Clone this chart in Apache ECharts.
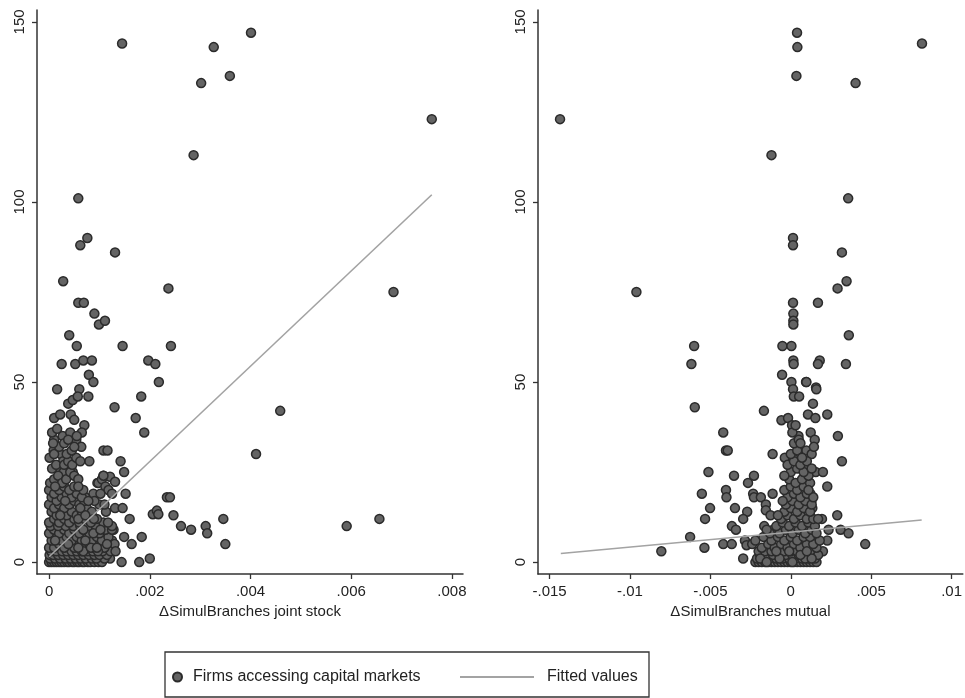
<!DOCTYPE html>
<html><head><meta charset="utf-8">
<script src="https://cdn.jsdelivr.net/npm/echarts@6/dist/echarts.min.js"></script>
<style>html,body{margin:0;padding:0;background:#fff}#c{width:965px;height:698px}</style>
</head><body><div id="c"></div><script>
const yTicks = [0, 50, 100, 150];
const jointTicks = [0, 0.002, 0.004, 0.006, 0.008];
const mutualTicks = [-0.015, -0.01, -0.005, 0, 0.005, 0.01];
const jointName = 'ΔSimulBranches joint stock';
const mutualName = 'ΔSimulBranches mutual';
const scatterName = 'Firms accessing capital markets';
const fitName = 'Fitted values';
const jointFit = [[0, 1.5], [0.0076, 102]];
const mutualFit = [[-0.0143, 2.4], [0.00814, 11.7]];

const jointPoints = [
 [0.00145,144],[0.00327,143],[0.00401,147],[0.00302,133],[0.00359,135],[0.00287,113],[0.0076,123],
 [0.00058,101],[0.00076,90],[0.00062,88],[0.00131,86],[0.00028,78],[0.00237,76],[0.00684,75],
 [0.00058,72],[0.00069,72],[0.0009,69],[0.00099,66],[0.00111,67],[0.0004,63],[0.00055,60],[0.00146,60],[0.00242,60],
 [0.00025,55],[0.00052,55],[0.00068,56],[0.00085,56],[0.00197,56],[0.00211,55],[0.00079,52],[0.00088,50],[0.00218,50],
 [0.00016,48],[0.0006,48],[0.00038,44],[0.00047,45],[0.00057,46],[0.00078,46],[0.00183,46],[0.0013,43],[0.00459,42],
 [0.0001,40],[0.00022,41],[0.00043,41],[0.0005,39.5],[0.00172,40],[0.0007,38],[0.00065,36],[0.00189,36],
 [0.0001,34],[0.00027,35],[0.00042,36],[0.00054,34],[0.00009,31],[0.00023,30],[0.00064,32],[0.00108,31],[0.00116,31],[0.00411,30],
 [0.00028,28],[0.0008,28],[0.00142,28],[0.00019,26],[0.00029,25],[0.00039,27],[0.00047,25],[0.00149,25],
 [0.00108,24],[0.00121,23.7],[0.00131,22.3],[0.00005,22],[0.00096,22],[0.00152,19],[0.00234,18],[0.0024,18],
 [0.00088,19],[0.00072,18],[0.001,16],[0.00131,15],[0.00146,15],[0.00206,13.3],[0.00214,14.3],[0.00217,13.3],[0.00247,13],
 [0.00113,14],[0.0016,12],[0.00346,12],[0.00656,12],[0.00591,10],[0.00262,10],[0.00282,9],[0.00311,10],[0.00314,8],
 [0.00128,9],[0.00184,7],[0.0035,5],[0.00164,5],[0.00149,7],[0.002,1],[0.00179,0],[0.00144,0],[0.00121,1],
 [0,0],[0.00005,0],[0.0001,0],[0.00015,0],[0.0002,0],[0.00025,0],[0.0003,0],[0.00036,0],[0.0004,0],[0.00046,0],[0.0005,0],
 [0.00056,0],[0.0006,0],[0.00066,0],[0.0007,0],[0.00077,0],[0.00082,0],[0.0009,0],[0.00098,0],[0.00105,0],[0.0011,1],
 [0.00002,1],[0.00012,1],[0.00022,1],[0.00033,1],[0.00043,1],[0.00053,1],[0.00063,1],[0.00073,1],[0.00085,1],[0.00094,1],
 [0.00001,2],[0.00008,2],[0.00018,2],[0.00028,2],[0.00038,2],[0.00048,2],[0.00058,2],[0.00068,2],[0.00079,2],[0.0009,2],[0.001,2],[0.00115,2],
 [0.00004,3],[0.00014,3],[0.00026,3],[0.00035,3],[0.00045,3],[0.00055,3],[0.00065,3],[0.00076,3],[0.00087,3],[0.00106,3],[0.00122,3],
 [0,4],[0.0001,4],[0.0002,5],[0.0003,4],[0.0004,5],[0.0005,4],[0.0006,5],[0.0007,4],[0.0008,5],[0.0009,4],[0.001,5],[0.0011,4],[0.00125,6],[0.0013,5],
 [0.00005,6],[0.00015,7],[0.00025,6],[0.00035,7],[0.00045,6],[0.00055,7],[0.00065,6],[0.00075,7],[0.00085,6],[0.00095,7],[0.00105,6],[0.00118,7],
 [0,8],[0.0001,9],[0.0002,8],[0.0003,9],[0.0004,8],[0.0005,9],[0.0006,8],[0.0007,9],[0.0008,8],[0.0009,9],[0.001,8],[0.00112,9],[0.00125,9],
 [0.00003,10],[0.00018,10],[0.00033,10],[0.00048,10],[0.00062,10],[0.00078,10],[0.00093,10],[0.00108,11],[0.00125,10],
 [0,11],[0.0001,12],[0.0002,11],[0.0003,12],[0.0004,11],[0.0005,12],[0.0006,11],[0.0007,12],[0.0008,13],[0.00095,12],
 [0.00005,14],[0.00015,13],[0.00025,14],[0.00035,13],[0.00045,14],[0.00055,13],[0.00065,14],[0.00075,15],[0.00085,14],
 [0,16],[0.0001,15],[0.0002,16],[0.0003,15],[0.0004,16],[0.0005,17],[0.0006,16],[0.0007,17],[0.0009,17],[0.0011,16],
 [0.00005,18],[0.00015,17],[0.00025,18],[0.00035,19],[0.00045,18],[0.00055,19],[0.00065,18],
 [0,20],[0.0001,19],[0.0002,20],[0.0003,21],[0.0004,20],[0.0005,21],
 [0.00098,22],[0.00105,23],[0.00112,21],[0.00118,20],[0.00125,19],[0.00102,19],[0.00108,24],
 [0.00002,22],[0.0001,23],[0.00018,24],[0.00026,22],[0.00034,23],[0.00042,25],[0.0005,24],[0.00058,23],
 [0.00006,26],[0.00014,27],[0.0003,27],[0.00038,28],[0.00046,27],[0.00054,29],[0.00062,28],
 [0.00001,29],[0.0001,30],[0.00035,30],[0.00045,31],[0.0005,32],[0.0002,32],[0.0003,33],[0.00038,34],[0.00008,33],[0.00055,35],[0.00006,36],[0.00016,37],
 [0.00068,3],[0.00083,4],[0.00097,3],[0.00115,5],[0.00072,6],[0.00088,8],[0.00102,9],[0.00117,11],[0.00068,9],[0.00083,11],
 [0.00058,12],[0.00072,13],[0.00089,12],[0.00062,15],[0.00078,17],[0.00068,20],[0.00058,21],[0.00032,17],[0.00012,21],[0.00022,13],
 [0.00095,4],[0.00132,3],[0.00012,6],[0.00038,5],[0.00058,4]
];

const mutualPoints = [
 [0.00039,147],[0.00041,143],[0.00035,135],[0.00403,133],[0.00816,144],[-0.01435,123],[-0.0012,113],[0.00357,101],
 [0.00014,90],[0.00014,88],[0.00318,86],[0.00347,78],[0.00291,76],[-0.0096,75],
 [0.00014,72],[0.00169,72],[0.00016,69],[0.00016,67],[0.00016,66],[0.00361,63],[-0.00052,60],[0.00004,60],[-0.00601,60],
 [0.00016,56],[0.00018,55],[0.0018,56],[0.00169,55],[0.00343,55],[-0.00618,55],[-0.00054,52],[0.00004,50],[0.00095,50],[0.00157,48.5],
 [-0.00597,43],[-0.00167,42],[-0.0042,36],[-0.00403,31],[-0.00392,31],[-0.00512,25],[-0.00553,19],[-0.00502,15],[-0.00533,12],
 [-0.00626,7],[-0.00537,4],[-0.00805,3],[-0.00353,24],[-0.00403,20],[-0.004,18],[-0.00347,15],[-0.00266,22],[-0.00229,24],
 [-0.00234,19],[-0.00229,18],[-0.00186,18],[-0.00113,19],[-0.00155,16],[-0.00155,14.4],[-0.00271,14],[-0.00296,12],[-0.00126,13],
 [-0.00165,10],[-0.00366,10],[-0.00341,9],[-0.0042,5],[-0.00367,5],[-0.00296,1],[-0.00285,6],[-0.00275,4.7],[-0.00113,30],
 [-0.00058,39.4],[-0.00017,40],[0.00008,38],[0.00014,48],[0.00019,46],[0.00052,46],[0.00097,50],[0.00159,48],[0.00138,44],
 [0.00107,41],[0.00153,40],[0.00227,41],[0.00048,35],[0.00124,36],[0.00149,34],[0.00293,35],[0.00097,31],[0.0013,30],[0.00144,32],
 [0.00318,28],[-0.00037,29],[0.00014,29],[0.00087,26],[0.00155,25],[0.002,25],[0.00227,21],[0.00289,13],[0.0031,9],[0.00359,8],
 [0.00235,9],[0.00463,5],[0.00227,6],[0.002,3],[0.00194,12],[0.00122,19],[0.00128,17],[0.00134,15],
 [-0.0022,0],[-0.002,0],[-0.0018,0],[-0.0016,0],[-0.0014,0],[-0.0012,0],[-0.001,0],[-0.0008,0],[-0.0006,0],[-0.0004,0],[-0.0002,0],
 [0,0],[0.0002,0],[0.0004,0],[0.0006,0],[0.0008,0],[0.001,0],[0.0012,0],[0.0014,0],[0.0016,0],
 [-0.0021,1],[-0.0017,1],[-0.0013,1],[-0.0009,1],[-0.0005,1],[-0.0001,1],[0.0003,1],[0.0007,1],[0.0011,1],[0.0015,1],
 [-0.0019,2],[-0.0015,2],[-0.0011,2],[-0.0007,2],[-0.0003,2],[0.0001,2],[0.0005,2],[0.0009,2],[0.0013,2],[0.0017,2],
 [-0.002,3],[-0.0016,3],[-0.0012,3],[-0.0008,3],[-0.0004,3],[0,3],[0.0004,3],[0.0008,3],[0.0012,3],[0.0016,4],
 [-0.0018,4],[-0.0014,5],[-0.001,4],[-0.0006,5],[-0.0002,4],[0.0002,5],[0.0006,4],[0.001,5],[0.0014,5],[-0.0024,5],
 [-0.0022,6],[-0.0017,7],[-0.0012,6],[-0.0008,7],[-0.0004,6],[0,7],[0.0004,6],[0.0008,7],[0.0012,7],[0.0018,6],
 [-0.0011,9],[-0.0007,8],[-0.0003,9],[0.0001,8],[0.0005,9],[0.0009,8],[0.0013,9],
 [-0.0009,10],[-0.0005,11],[-0.0001,10],[0.0003,11],[0.0007,10],[0.0011,11],[0.0015,10],
 [-0.0006,12],[-0.0002,13],[0.0002,12],[0.0006,13],[0.001,12],[0.0014,12],
 [-0.0004,14],[0,15],[0.0004,14],[0.0008,15],[0.0012,14],[-0.0003,16],[0.0001,17],[0.0005,16],[0.0009,17],[0.0013,16],
 [-0.0002,18],[0.0002,19],[0.0006,18],[0.001,19],[-0.0004,20],[0,21],[0.0004,20],[0.0008,21],[0.0012,22],
 [-0.0001,23],[0.0003,22],[0.0007,23],[0.0011,24],[0,25],[0.0004,26],[0.0008,25],[-0.0002,27],[0.0002,28],[0.0006,27],[0.001,28],
 [0,30],[0.0004,31],[0.0007,29],[0.0002,33],[0.0005,34],[0.0001,36],[0.0003,38],[0.0006,33],
 [-0.0019,1],[-0.0015,0],[-0.0007,1],[0.0001,0],[0.0009,1],[0.0013,1],[-0.0009,3],[-0.0001,3],[0.0006,2],[0.001,3],
 [-0.0013,8],[-0.0015,9],[0.0016,8],[0.0017,12],[-0.0008,13],[0.0014,18],[-0.0005,17],[0.0011,20],[0.0013,26],[-0.0004,24]
];

const FONT = '"Liberation Sans", Arial, sans-serif';
const AX = '#333';
function fmt(v) {
  if (Math.abs(v) < 1e-12) return '0';
  const s = String(+(+v).toFixed(4));
  return s.replace(/^(-?)0\./, '$1.');
}
function xAxis(idx, min, max, ticks, name) {
  return {
    type: 'value', gridIndex: idx, min: min, max: max, name: name,
    nameLocation: 'middle', nameGap: 27,
    nameTextStyle: { fontFamily: FONT, fontSize: 15, color: '#222' },
    axisLine: { show: true, onZero: false, lineStyle: { color: AX, width: 1.5 } },
    axisTick: { show: true, length: 5, customValues: ticks, lineStyle: { color: AX, width: 1.3 } },
    axisLabel: { customValues: ticks, formatter: fmt, margin: 10, fontFamily: FONT, fontSize: 15, color: '#222' },
    splitLine: { show: false }
  };
}
function yAxis(idx) {
  return {
    type: 'value', gridIndex: idx, min: -3.3, max: 153.3,
    axisLine: { show: true, onZero: false, lineStyle: { color: AX, width: 1.5 } },
    axisTick: { show: true, length: 5, customValues: yTicks, lineStyle: { color: AX, width: 1.3 } },
    axisLabel: { customValues: yTicks, rotate: 90, margin: 10, fontFamily: FONT, fontSize: 15, color: '#222', formatter: v => String(v) },
    splitLine: { show: false }
  };
}
const dotStyle = { color: '#646464', borderColor: '#2b2b2b', borderWidth: 1.5, opacity: 1 };
const lineStyle = { color: '#a3a3a3', width: 1.6 };

const chart = echarts.init(document.getElementById('c'), null, { renderer: 'canvas' });
chart.setOption({
  animation: false,
  backgroundColor: '#fff',
  grid: [
    { left: 37, top: 10, width: 426, height: 564 },
    { left: 538, top: 10, width: 425, height: 564 }
  ],
  xAxis: [
    xAxis(0, -0.00024, 0.00822, jointTicks, jointName),
    xAxis(1, -0.01572, 0.0107, mutualTicks, mutualName)
  ],
  yAxis: [yAxis(0), yAxis(1)],
  legend: [
    { data: [scatterName], left: 172, top: 669, padding: 0, itemWidth: 9, itemHeight: 9, selectedMode: false,
      textStyle: { fontFamily: FONT, fontSize: 16, color: '#222', padding: [0, 0, 0, 6] } },
    { data: [{ name: fitName, icon: 'rect', itemStyle: { color: '#a3a3a3', borderWidth: 0 } }], left: 460, top: 669, padding: 0,
      itemWidth: 74, itemHeight: 2, selectedMode: false,
      textStyle: { fontFamily: FONT, fontSize: 16, color: '#222', padding: [0, 0, 0, 8] } }
  ],
  graphic: [
    { type: 'rect', silent: true, shape: { x: 165, y: 652, width: 484, height: 45 },
      style: { fill: 'none', stroke: '#333', lineWidth: 1.3 } }
  ],
  series: [
    { name: scatterName, type: 'scatter', xAxisIndex: 0, yAxisIndex: 0, data: jointPoints, symbol: 'circle', symbolSize: 9, itemStyle: dotStyle, z: 2 },
    { name: scatterName, type: 'scatter', xAxisIndex: 1, yAxisIndex: 1, data: mutualPoints, symbol: 'circle', symbolSize: 9, itemStyle: dotStyle, z: 2 },
    { name: fitName, type: 'line', xAxisIndex: 0, yAxisIndex: 0, data: jointFit, symbol: 'none', showSymbol: false, lineStyle: lineStyle, itemStyle: { color: '#a3a3a3' }, z: 3 },
    { name: fitName, type: 'line', xAxisIndex: 1, yAxisIndex: 1, data: mutualFit, symbol: 'none', showSymbol: false, lineStyle: lineStyle, itemStyle: { color: '#a3a3a3' }, z: 3 }
  ]
});
</script></body></html>
